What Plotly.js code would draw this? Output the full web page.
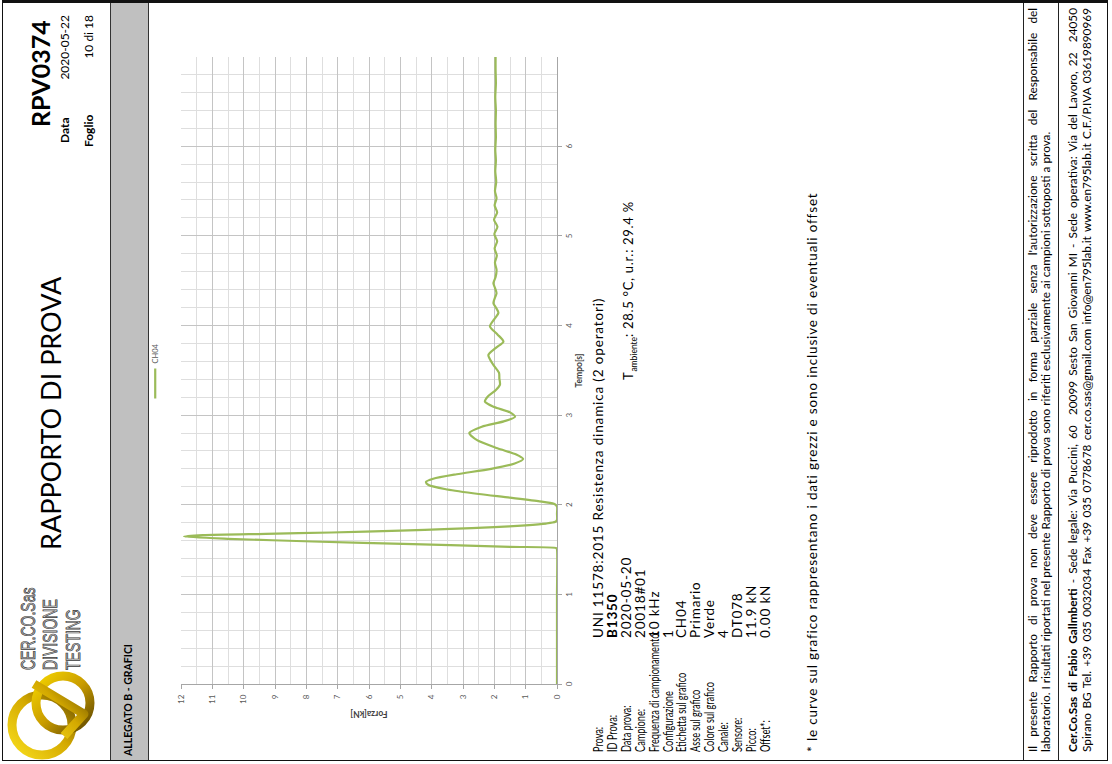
<!DOCTYPE html>
<html>
<head>
<meta charset="utf-8">
<script src="https://cdn.plot.ly/plotly-3.0.1.min.js"></script>
<style>
  html, body { margin:0; padding:0; background:#fff; width:1112px; height:764px; overflow:hidden; }
  #page { position:absolute; left:0; top:0; width:764px; height:1112px; background:#fff;
          transform-origin:0 0; transform: translate(0px, 764px) rotate(-90deg);
          font-family: Lato, "Open Sans", sans-serif; color:#000; }
  .abs { position:absolute; white-space:nowrap; }
  .hl { position:absolute; left:4px; width:757px; height:0; border-top:1px solid #222; }
  .lab { font-size:13.5px; line-height:14px; transform-origin:0 50%; transform:scaleX(0.68); }
  .val { font-size:13.5px; line-height:14px; letter-spacing:0.85px; }
  .foot { position:absolute; left:12px; width:744px; font-size:11.8px; line-height:13px; white-space:nowrap; }
  .just { text-align:justify; text-align-last:justify; }
  .logo { font-family:"Liberation Sans", Arial, sans-serif; font-size:20px; line-height:20px; color:#d2d2d2;
          -webkit-text-stroke:0.8px #3a3a3a; transform-origin:0 50%; transform:scaleX(0.7); }
</style>
</head>
<body>
<div id="page">
  <!-- frame -->
  <div class="abs" style="left:3px; top:2px; width:757px; height:1104px; border:1.5px solid #111; border-right:3px solid #111;"></div>
  <div class="abs" style="left:4px; top:110px; width:757px; height:37px; background:#c0c0c0; border-top:1px solid #333; border-bottom:1px solid #333;"></div>
  <div class="hl" style="top:1023px;"></div>
  <div class="hl" style="top:1058px;"></div>

  <!-- logo -->
  <svg class="abs" style="left:0; top:0;" width="120" height="110" viewBox="0 0 120 110">
    <defs>
      <linearGradient id="gA" x1="0" y1="0" x2="1" y2="1">
        <stop offset="0" stop-color="#f7dc1c"/><stop offset="0.55" stop-color="#d4a900"/><stop offset="1" stop-color="#6e5300"/>
      </linearGradient>
      <linearGradient id="gB" x1="1" y1="0" x2="0" y2="1">
        <stop offset="0" stop-color="#f4d400"/><stop offset="0.5" stop-color="#c99c00"/><stop offset="1" stop-color="#5e4700"/>
      </linearGradient>
    </defs>
    <circle cx="39" cy="42" r="30" fill="none" stroke="url(#gA)" stroke-width="9"/>
    <circle cx="61" cy="63" r="27" fill="none" stroke="url(#gB)" stroke-width="9"/>
    <path d="M28 64 L50 84 L80 34" fill="none" stroke="url(#gA)" stroke-width="9" stroke-linejoin="round"/>
  </svg>
  <div class="abs logo" style="left:94px; top:18px;">CER.CO.Sas</div>
  <div class="abs logo" style="left:94px; top:40px;">DIVISIONE</div>
  <div class="abs logo" style="left:94px; top:63px;">TESTING</div>

  <!-- header -->
  <div class="abs" style="left:214px; top:36px; font-size:27px; line-height:30px;">RAPPORTO DI PROVA</div>
  <div class="abs" style="left:637px; top:25px; font-size:25px; line-height:30px; font-weight:bold;">RPV0374</div>
  <div class="abs" style="left:621px; top:58px; font-size:12px; line-height:14px; font-weight:bold;">Data</div>
  <div class="abs" style="left:680px; width:69px; top:58px; font-size:12px; line-height:14px; text-align:right;">2020-05-22</div>
  <div class="abs" style="left:617px; top:82px; font-size:12px; line-height:14px; font-weight:bold;">Foglio</div>
  <div class="abs" style="left:680px; width:69px; top:82px; font-size:12px; line-height:14px; text-align:right;">10 di 18</div>
  <div class="abs" style="left:8px; top:122px; font-size:10.5px; line-height:12px; font-weight:bold;">ALLEGATO B - GRAFICI</div>

  <!-- chart -->
  <div id="chart" class="abs" style="left:0px; top:150px; width:764px; height:450px;"></div>

  <!-- info block -->
  <div id="info"></div>
  <div class="abs" style="left:384px; top:621px; font-size:13px; line-height:14px; letter-spacing:0.7px;">T<sub style="font-size:8.5px; letter-spacing:0;">ambiente</sub>: 28.5 °C, u.r.: 29.4 %</div>
  <div class="abs" style="left:12px; top:804px; font-size:13.5px; line-height:16px; letter-spacing:0.85px;">* le curve sul grafico rappresentano i dati grezzi e sono inclusive di eventuali offset</div>

  <!-- footer -->
  <div class="foot just" style="top:1026px;">Il presente Rapporto di prova non deve essere riprodotto in forma parziale senza l'autorizzazione scritta del Responsabile del</div>
  <div class="foot" style="top:1039px;">laboratorio. I risultati riportati nel presente Rapporto di prova sono riferiti esclusivamente ai campioni sottoposti a prova.</div>
  <div class="foot just" style="top:1066px;"><b>Cer.Co.Sas di Fabio Gallmberti</b> - Sede legale: Via Puccini, 60&nbsp; 20099 Sesto San Giovanni MI - Sede operativa: Via del Lavoro, 22&nbsp; 24050</div>
  <div class="foot just" style="top:1080px;">Spirano BG Tel. +39 035 0032034 Fax +39 035 0778678 cer.co.sas@gmail.com info@en795lab.it www.en795lab.it C.F./P.IVA 03619890969</div>
</div>

<script>
// ---- data ----
const tempo = [0, 0.5, 1.0, 1.5, 1.515, 1.53, 1.56, 1.59, 1.62, 1.645, 1.66, 1.675, 1.69, 1.71, 1.73, 1.75, 1.77, 1.79, 1.81, 1.83, 1.9, 1.98,
  2.01, 2.04, 2.08, 2.12, 2.17, 2.22, 2.255, 2.29, 2.34, 2.40, 2.46, 2.51, 2.56, 2.63, 2.72, 2.80, 2.87, 2.93, 2.98, 3.03, 3.09, 3.15,
  3.21, 3.28, 3.34, 3.41, 3.47, 3.57, 3.67, 3.75, 3.82, 3.90, 3.99, 4.07, 4.14, 4.20, 4.25, 4.31, 4.36, 4.42, 4.47, 4.54, 4.62, 4.70,
  4.78, 4.86, 4.94, 5.02, 5.10, 5.18, 5.26, 5.34, 5.42, 5.50, 5.60, 5.72, 5.84, 5.96, 6.10, 6.25, 6.40, 6.55, 6.70, 6.85, 7.0];
const forza = [0, 0, 0, 0, 0.02, 1.5, 4.6, 7.8, 10.5, 11.9, 11.3, 9.3, 7.2, 5.0, 3.4, 2.0, 1.0, 0.35, 0.05, 0, 0, 0,
  0.1, 0.6, 1.5, 2.5, 3.5, 4.1, 4.18, 3.95, 3.2, 2.1, 1.35, 1.08, 1.3, 1.9, 2.55, 2.8, 2.4, 1.7, 1.34, 1.5, 2.0, 2.3,
  2.2, 1.95, 1.82, 1.84, 1.85, 2.05, 2.19, 1.95, 1.71, 1.9, 2.14, 2.0, 1.87, 1.95, 2.03, 1.98, 1.93, 1.98, 2.03, 1.96, 1.93, 1.98,
  1.92, 1.99, 1.91, 2.0, 1.9, 2.01, 1.91, 1.99, 1.93, 1.98, 1.94, 1.97, 1.95, 1.97, 1.95, 1.96, 1.95, 1.97, 1.95, 1.96, 1.96];
const seriesName = "CH04";
const tempoTicks = [0, 1, 2, 3, 4, 5, 6];
const forzaTicks = [0, 1, 2, 3, 4, 5, 6, 7, 8, 9, 10, 11, 12];

const infoLabels = ["Prova:", "ID Prova:", "Data prova:", "Campione:", "Frequenza di campionamento:", "Configurazione",
  "Etichetta sul grafico", "Asse sul grafico", "Colore sul grafico", "Canale:", "Sensore:", "Picco:", "Offset*:"];
const infoValues = ["UNI 11578:2015 Resistenza dinamica (2 operatori)", "<b>B1350</b>", "2020-05-20", "20018#01", "10 kHz", "1",
  "CH04", "Primario", "Verde", "4", "DT078", "11.9 kN", "0.00 kN"];

// ---- info block ----
const info = document.getElementById('info');
infoLabels.forEach((lab, i) => {
  const top = 591 + i * 13.9;
  const a = document.createElement('div');
  a.className = 'abs lab'; a.style.left = '12px'; a.style.top = top + 'px'; a.textContent = lab;
  const b = document.createElement('div');
  b.className = 'abs val'; b.style.left = '126px'; b.style.top = top + 'px'; b.innerHTML = infoValues[i];
  info.appendChild(a); info.appendChild(b);
});

// ---- chart ----
const trace = {
  x: tempo, y: forza, type: 'scatter', mode: 'lines', name: seriesName,
  line: { color: '#9bbb59', width: 2.2, shape: 'spline', smoothing: 0.7 }
};
const layout = {
  width: 764, height: 450,
  margin: { l: 80, r: 57, t: 31, b: 43, autoexpand: false },
  paper_bgcolor: 'rgba(0,0,0,0)', plot_bgcolor: '#fff',
  font: { family: 'Lato, sans-serif', size: 8, color: '#595959' },
  showlegend: true,
  legend: { orientation: 'h', x: 0.5, xanchor: 'center', y: 1.03, yanchor: 'bottom',
            font: { size: 7.5, color: '#595959' }, itemwidth: 30 },
  xaxis: {
    range: [0, 6.995], tickvals: tempoTicks, ticktext: tempoTicks.map(String),
    showgrid: true, gridcolor: '#c4c4c4', gridwidth: 1,
    minor: { dtick: 0.2, tick0: 0, showgrid: true, gridcolor: '#dedede', gridwidth: 1, ticks: '' },
    showline: true, linecolor: '#a6a6a6', linewidth: 1,
    ticks: 'outside', ticklen: 4, tickcolor: '#a6a6a6',
    zeroline: false,
    title: { text: '<b>Tempo[s]</b>', font: { size: 8.5, color: '#404040' }, standoff: 3 }
  },
  yaxis: {
    range: [0, 12], tickvals: forzaTicks, ticktext: forzaTicks.map(String),
    showgrid: true, gridcolor: '#c4c4c4', gridwidth: 1,
    minor: { dtick: 0.5, tick0: 0, showgrid: true, gridcolor: '#dedede', gridwidth: 1, ticks: '' },
    showline: true, linecolor: '#a6a6a6', linewidth: 1,
    ticks: 'outside', ticklen: 4, tickcolor: '#a6a6a6', ticklabelstandoff: 4,
    zeroline: false,
    title: { text: '<b>Forza[kN]</b>', font: { size: 8.5, color: '#404040' }, standoff: 5 }
  }
};
Plotly.newPlot('chart', [trace], layout, { staticPlot: true, displayModeBar: false });
</script>
</body>
</html>
